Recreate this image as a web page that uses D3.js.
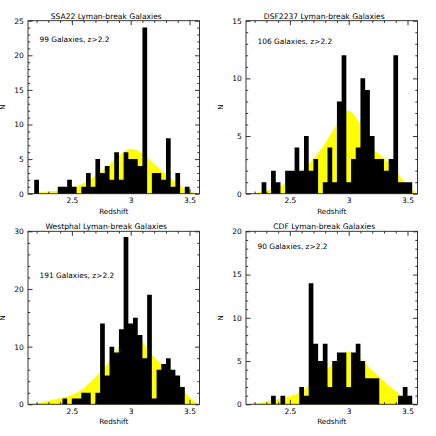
<!DOCTYPE html>
<html><head><meta charset="utf-8">
<script src="https://cdn.jsdelivr.net/npm/d3@7"></script>
<style>
body{margin:0;background:#fff}
svg text{font-family:"DejaVu Sans",sans-serif;fill:#000}
</style></head>
<body><svg width="436" height="436"></svg>
<script>
'use strict';
// histogram bins (lower edges), all panels share them
const binLo = [2.18,2.22,2.26,2.30,2.34,2.38,2.42,2.46,2.50,2.54,2.58,2.62,2.66,2.70,2.74,2.78,2.82,2.86,
	2.90,2.94,2.98,3.02,3.06,3.10,3.14,3.18,3.22,3.26,3.30,3.34,3.38,3.42,3.46,3.50,3.54]
const binW = 0.04

const countsSSA22 =    [2,0,0,0,0,1,1,2,1,0,1,3,1,5,3,4,2,6,2,6,5,5,4,24,0,3,3,2,8,1,3,0,1,0,0]
const countsDSF2237 =  [0,0,1,0,2,1,0,2,2,4,2,5,2,3,0,1,4,1,8,12,1,3,4,10,9,5,3,3,2,3,12,1,1,1,0]
const countsWestphal = [0,0,0,0,0,0,1,0,1,1,2,2,0,2,14,5,10,9,13,29,14,15,12,8,19,1,6,7,8,6,5,3,0,0,0]
const countsCDF =      [0,0,0,0,1,0,1,0,0,0,2,1,14,7,5,7,2,5,6,6,2,6,7,5,3,3,3,0,0,0,0,1,2,1,0]

// smooth expected distribution (yellow)
const curveZ =      [2.127,2.2,2.3,2.4,2.5,2.6,2.7,2.8,2.9,3.0,3.1,3.2,3.3,3.4,3.5,3.585]
const selSSA22 =    [0,0.15,0.3,0.5,0.87,1.5,2.6,3.9,5.5,6.5,5.8,4.3,2.8,1.4,0.4,0]
const selDSF2237 =  [0,0.05,0.3,0.6,1.1,2.0,3.0,4.4,6.0,7.2,6.0,4.0,3.1,2.0,0.75,0]
const selWestphal = [0,0.2,0.6,1.1,1.6,2.8,4.7,7.0,10.0,12.7,10.8,8.2,6.3,3.9,1.2,0]
const selCDF =      [0,0.1,0.3,0.6,0.93,1.5,2.7,3.8,5.2,6.1,5.3,3.9,2.7,1.5,0.45,0]

const titles = ["SSA22 Lyman-break Galaxies","DSF2237 Lyman-break Galaxies",
	"Westphal Lyman-break Galaxies","CDF Lyman-break Galaxies"]
const notes = ["99 Galaxies, z>2.2","106 Galaxies, z>2.2","191 Galaxies, z>2.2","90 Galaxies, z>2.2"]
const yMax = [25,15,30,20]
const yMajor = [5,5,10,5]
const yMinor = [1,1,2,1]
const xMajor = [2.5,3,3.5]
const xMinor = [2.2,2.3,2.4,2.6,2.7,2.8,2.9,3.1,3.2,3.3,3.4]

const allCounts = [countsSSA22,countsDSF2237,countsWestphal,countsCDF]
const allSel = [selSSA22,selDSF2237,selWestphal,selCDF]

// layout
const W = 171.5, H = 173
const panelX = [28,246,28,246], panelY = [20.7,20.7,231.3,231.3]
const noteY = [21,23.5,46.5,17.5]

let eSvg = d3.select("svg")

function drawPanel(p) {
	let g = eSvg.append("g").attr("transform", `translate(${panelX[p]},${panelY[p]})`)
	let x = d3.scaleLinear().domain([2.127,3.585]).range([0,W])
	let y = d3.scaleLinear().domain([0,yMax[p]]).range([H,0])

	// yellow curve
	let selPts = curveZ.map((z,i) => ({z:z, v:allSel[p][i]}))
	g.append("path").datum(selPts)
		.attr("fill","#ffff00")
		.attr("d", d3.area().curve(d3.curveMonotoneX)
			.x(d => x(d.z)).y0(y(0)).y1(d => y(d.v)))

	// histogram as one stepped area so neighbouring bars merge
	let hist = binLo.map((z,i) => ({z:z, n:allCounts[p][i]}))
	hist.push({z:binLo[binLo.length-1]+binW, n:0})
	g.append("path").datum(hist)
		.attr("fill","#000")
		.attr("d", d3.area().curve(d3.curveStepAfter)
			.x(d => x(d.z)).y0(y(0)).y1(d => y(d.n)))

	// axes, ticks pointing inward on all four sides
	let yMaj = d3.range(0, yMax[p]+0.01, yMajor[p])
	let yMin = d3.range(0, yMax[p]+0.01, yMinor[p]).filter(v => v % yMajor[p] !== 0)
	let axes = [
		[d3.axisBottom(x).tickValues(xMajor).tickFormat(d3.format("")), `translate(0,${H})`, true],
		[d3.axisBottom(x).tickValues(xMinor), `translate(0,${H})`, false],
		[d3.axisTop(x).tickValues(xMajor), null, false],
		[d3.axisTop(x).tickValues(xMinor), null, false],
		[d3.axisLeft(y).tickValues(yMaj), null, true],
		[d3.axisLeft(y).tickValues(yMin), null, false],
		[d3.axisRight(y).tickValues(yMaj), `translate(${W},0)`, false],
		[d3.axisRight(y).tickValues(yMin), `translate(${W},0)`, false]]
	axes.forEach(([ax, tr, labels], k) => {
		let major = k % 2 === 0
		ax.tickSizeInner(major ? -4.5 : -2.2).tickSizeOuter(0).tickPadding(4.2)
		if (!labels) ax.tickFormat("")
		let a = g.append("g").attr("transform", tr).call(ax)
		a.select(".domain").remove()
		a.selectAll("line").attr("stroke","#000").attr("stroke-width",0.8)
		a.selectAll("text").attr("font-size","7.5px").attr("font-family",null)
	})

	g.append("rect").attr("width",W).attr("height",H)
		.attr("fill","none").attr("stroke","#222").attr("stroke-width",0.9)

	g.append("text").attr("x", W/2-7.5).attr("y",-2.2)
		.attr("text-anchor","middle").attr("font-size","7.6px").text(titles[p])
	g.append("text").attr("x",11.5).attr("y",noteY[p])
		.attr("font-size","7.4px").text(notes[p])
	g.append("text").attr("x",W/2).attr("y",H+20)
		.attr("text-anchor","middle").attr("font-size","7.2px").text("Redshift")
	g.append("text").attr("transform",`translate(-23.5,${H/2}) rotate(-90)`)
		.attr("text-anchor","middle").attr("font-size","7px").text("N")
}

[0,1,2,3].forEach(drawPanel)
</script>
</body></html>
